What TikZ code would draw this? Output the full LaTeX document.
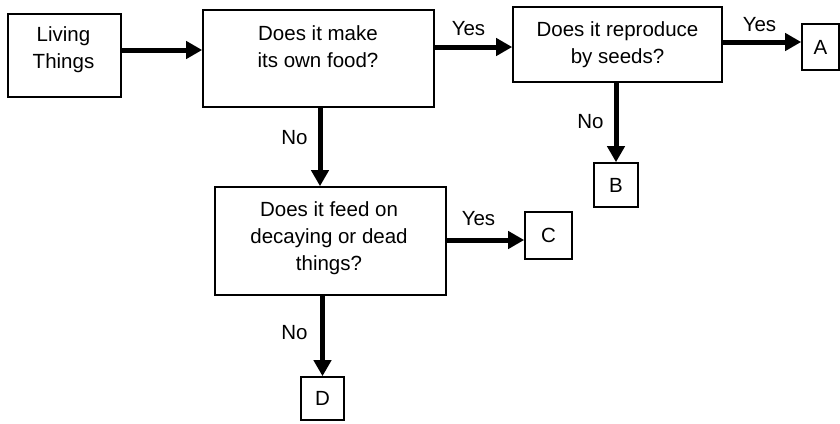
\documentclass[tikz,border=0pt]{standalone}
\usepackage{fontspec}
\setmainfont{Liberation Sans}
\usetikzlibrary{arrows.meta}
\begin{document}
\begin{tikzpicture}[x=1pt,y=-1pt,
box/.style={draw,line width=1.6pt,inner sep=0pt},
txt/.style={align=center,inner sep=0pt,font=\fontsize{20.5}{27}\selectfont},
arr/.style={line width=5pt,-{Triangle[length=16pt,width=17pt]}}]
\useasboundingbox (0,0) rectangle (840,423);
\node [box,minimum width=113pt,minimum height=83pt] (living) at (64.5,55.5) {};
\node [box,minimum width=231pt,minimum height=97pt] (food) at (318.5,58.5) {};
\node [box,minimum width=209pt,minimum height=75pt] (seeds) at (617.5,44.5) {};
\node [box,minimum width=231pt,minimum height=108pt] (decay) at (330.5,241) {};
\node [box,minimum width=37pt,minimum height=46pt,txt] (A) at (820.5,47) {A};
\node [box,minimum width=44pt,minimum height=44pt,txt] (B) at (616,185) {B};
\node [box,minimum width=47pt,minimum height=47pt,txt] (C) at (548.5,235.5) {C};
\node [box,minimum width=43pt,minimum height=43pt,txt] (D) at (322.5,398.5) {D};
\node [txt] (livingtxt) at (63.5,50) {Living\\Things};
\node [txt] (foodtxt) at (318,46.5) {Does it make\\its own food?};
\node [txt] (seedstxt) at (617.5,44.5) {Does it reproduce\\by seeds?};
\node [txt] (decaytxt) at (329,238.5) {Does it feed on\\decaying or dead\\things?};
\node [txt] (yes1) at (468.5,29) {Yes};
\node [txt] (yes2) at (759.5,25) {Yes};
\node [txt] (yes3) at (478.5,219) {Yes};
\node [txt] (no1) at (294.5,138) {No};
\node [txt] (no2) at (590.5,121.5) {No};
\node [txt] (no3) at (294.5,332.5) {No};
\draw [arr] ([yshift=5.5pt]living.east) -- ([yshift=8.5pt]food.west);
\draw [arr] ([yshift=11.5pt]food.east) -- ([yshift=-2.5pt]seeds.west);
\draw [arr] ([yshift=2.5pt]seeds.east) -- ([yshift=5pt]A.west);
\draw [arr] (B.north |- seeds.south) -- (B.north);
\draw [arr] ([xshift=1.5pt]food.south) -- ([xshift=-10.5pt]decay.north);
\draw [arr] ([yshift=1pt]decay.east) -- ([yshift=-4.5pt]C.west);
\draw [arr] (D.north |- decay.south) -- (D.north);
\end{tikzpicture}
\end{document}
